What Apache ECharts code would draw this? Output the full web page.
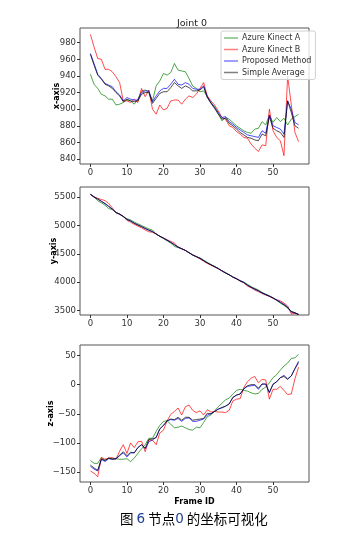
<!DOCTYPE html>
<html>
<head>
<meta charset="utf-8">
<script src="https://cdn.jsdelivr.net/npm/echarts@6/dist/echarts.min.js"></script>
<style>
  html, body { margin: 0; padding: 0; background: #fff; }
  #main { width: 353px; height: 535px; }
</style>
</head>
<body>
<div id="main"></div>
<script>
// 帧号 0..57
const frames = [];
for (let i = 0; i < 58; i++) frames.push(i);

const seriesNames = ['Azure Kinect A', 'Azure Kinect B', 'Proposed Method', 'Simple Average'];
const xTicks = [0, 10, 20, 30, 40, 50];

// x 轴坐标
const xA = [942, 930, 925, 918, 916, 912, 912, 905, 906, 908, 911, 910, 906, 912, 922, 923, 921, 910, 928, 934,
  943, 941, 944, 955, 947, 946, 945, 937, 928, 925, 921, 922, 915, 908, 903, 895, 886, 890, 888, 884,
  880, 877, 874, 872, 871, 876, 877, 885, 881, 893, 884, 890, 885, 889, 881, 888, 891, 894];
const xB = [990, 975, 961, 960, 948, 948, 945, 939, 932, 910, 910, 908, 912, 908, 925, 915, 923, 900, 894, 905,
  899, 901, 910, 911, 911, 906, 912, 916, 914, 918, 925, 932, 916, 910, 905, 898, 890, 888, 880, 878,
  873, 870, 866, 865, 858, 853, 849, 857, 856, 900, 874, 866, 862, 844, 940, 905, 872, 861];
const xP = [967, 955, 942, 937, 931, 929, 927, 921, 917, 910, 914, 912, 911, 911, 920, 922, 922, 909, 916, 922,
  925, 925, 930, 936, 930, 929, 932, 930, 925, 924, 924, 928, 915, 908, 902, 896, 890, 891, 885, 882,
  878, 875, 872, 869, 868, 867, 866, 874, 871, 893, 880, 878, 876, 870, 910, 900, 884, 881];
const xS = [966, 953, 941, 936, 930, 928, 925, 920, 916, 909, 912, 910, 909, 910, 918, 920, 920, 907, 913, 919,
  921, 921, 926, 932, 928, 925, 928, 926, 922, 922, 923, 927, 914, 907, 901, 894, 888, 889, 883, 880,
  876, 872, 869, 866, 865, 863, 862, 870, 868, 891, 877, 874, 872, 866, 910, 896, 880, 877];

// y 轴坐标
const yA = [5550, 5500, 5440, 5400, 5360, 5300, 5280, 5230, 5200, 5160, 5120, 5100, 5060, 5030, 5000, 4970, 4940, 4920, 4850, 4810,
  4770, 4730, 4690, 4630, 4610, 4590, 4560, 4520, 4480, 4450, 4430, 4390, 4350, 4310, 4280, 4240, 4200, 4170, 4130, 4090,
  4060, 4030, 4000, 3960, 3920, 3890, 3860, 3820, 3790, 3760, 3720, 3680, 3630, 3590, 3540, 3490, 3460, 3430];
const yB = [5550, 5500, 5480, 5460, 5440, 5390, 5310, 5230, 5200, 5160, 5090, 5060, 5020, 4990, 4960, 4920, 4890, 4880, 4850, 4810,
  4780, 4750, 4720, 4690, 4620, 4590, 4560, 4520, 4480, 4450, 4410, 4370, 4330, 4300, 4270, 4240, 4200, 4160, 4130, 4090,
  4060, 4020, 3990, 3930, 3900, 3860, 3830, 3800, 3770, 3750, 3720, 3690, 3670, 3630, 3580, 3440, 3450, 3430];
const yP = [5550, 5505, 5465, 5425, 5385, 5335, 5290, 5230, 5200, 5160, 5105, 5080, 5040, 5010, 4980, 4945, 4915, 4895, 4850, 4810,
  4775, 4740, 4705, 4660, 4620, 4590, 4560, 4520, 4480, 4450, 4420, 4380, 4340, 4305, 4275, 4240, 4200, 4165, 4130, 4090,
  4060, 4025, 3995, 3945, 3910, 3875, 3845, 3810, 3780, 3755, 3720, 3685, 3650, 3610, 3560, 3470, 3455, 3430];
const yS = [5550, 5510, 5470, 5430, 5390, 5340, 5290, 5230, 5200, 5160, 5110, 5080, 5040, 5010, 4980, 4950, 4920, 4890, 4850, 4810,
  4780, 4740, 4700, 4660, 4620, 4590, 4560, 4520, 4480, 4450, 4420, 4380, 4340, 4310, 4270, 4240, 4200, 4160, 4130, 4090,
  4060, 4020, 3990, 3950, 3910, 3880, 3850, 3810, 3780, 3750, 3720, 3680, 3640, 3600, 3550, 3480, 3460, 3430];

// z 轴坐标
const zA = [-130, -135, -135, -125, -130, -126, -127, -127, -128, -128, -127, -132, -126, -118, -110, -103, -92, -92, -80, -70,
  -63, -62, -68, -74, -73, -71, -74, -77, -78, -73, -74, -65, -55, -52, -45, -38, -32, -26, -23, -16,
  -10, -8, -10, -11, -14, -16, -15, -8, -4, 3, 12, 17, 25, 32, 37, 45, 46, 52];
const zB = [-148, -152, -158, -125, -128, -126, -125, -128, -114, -103, -118, -100, -108, -98, -97, -115, -95, -95, -103, -83,
  -78, -62, -51, -46, -40, -52, -38, -35, -44, -48, -45, -52, -43, -47, -46, -47, -47, -48, -44, -28,
  -25, -24, -5, 5, 11, 14, 3, 9, 8, -25, -8, -8, -3, -10, -17, -16, 10, 30];
const zP = [-140, -145, -148, -128, -132, -127, -128, -127, -122, -117, -124, -117, -117, -108, -103, -110, -98, -95, -90, -76,
  -70, -62, -60, -61, -58, -63, -58, -57, -63, -63, -61, -59, -52, -50, -46, -42, -40, -37, -33, -22,
  -18, -16, -7, -3, -2, -1, -8, 1, 1, -14, 0, 5, 12, 16, 10, 15, 28, 40];
const zS = [-138, -143, -147, -128, -130, -126, -128, -127, -121, -115, -122, -116, -117, -108, -103, -109, -94, -93, -91, -76,
  -70, -62, -59, -60, -56, -61, -56, -56, -61, -60, -59, -58, -49, -50, -46, -42, -39, -37, -33, -22,
  -18, -16, -7, -2, 0, 0, -6, 1, 1, -13, 1, 5, 12, 14, 9, 15, 27, 38];

const colors = ['#008000', '#ff0000', '#0000ff', '#000000'];
const textColor = '#333';
const font = 'DejaVu Sans';

const grids = [
  { left: 80, right: 44, top: 28, height: 136 },
  { left: 80, right: 44, top: 187, height: 128 },
  { left: 80, right: 44, top: 345, height: 137 }
];

// 刻度标签直接输出数字, 不加千位分隔符; 负号用 matplotlib 风格的 −
function plainLabel(v) {
  return String(v).replace('-', '\u2212');
}

function makeXAxis(idx, withName) {
  return {
    type: 'value',
    gridIndex: idx,
    min: -2.85,
    max: 59.85,
    splitLine: { show: false },
    axisLine: { show: false, onZero: false },
    axisTick: { show: true, length: 3, lineStyle: { color: '#333' }, customValues: xTicks },
    axisLabel: { color: textColor, fontSize: 8.5, fontFamily: font, margin: 4, customValues: xTicks, formatter: plainLabel },
    name: withName ? 'Frame ID' : '',
    nameLocation: 'middle',
    nameGap: 16,
    nameMoveOverlap: false,
    nameTextStyle: { color: '#000', fontSize: 8, fontWeight: 'bold', fontFamily: font }
  };
}

function makeYAxis(idx, name, min, max, ticks, gap) {
  return {
    type: 'value',
    gridIndex: idx,
    min: min,
    max: max,
    splitLine: { show: false },
    axisLine: { show: false, onZero: false },
    axisTick: { show: true, length: 3, lineStyle: { color: '#333' }, customValues: ticks },
    axisLabel: { color: textColor, fontSize: 8.5, fontFamily: font, margin: 4, customValues: ticks, formatter: plainLabel },
    name: name,
    nameLocation: 'middle',
    nameRotate: 90,
    nameGap: gap,
    nameMoveOverlap: false,
    nameTextStyle: { color: '#000', fontSize: 8, fontWeight: 'bold', fontFamily: font }
  };
}

function makeSeries(idx, arrs) {
  return arrs.map((arr, k) => ({
    name: seriesNames[k],
    type: 'line',
    xAxisIndex: idx,
    yAxisIndex: idx,
    data: frames.map((f, i) => [f, arr[i]]),
    symbol: 'none',
    animation: false,
    lineStyle: { color: colors[k], width: 1, opacity: 0.7 },
    itemStyle: { color: colors[k], opacity: 0.5 },
    z: 2 + k
  }));
}

const chart = echarts.init(document.getElementById('main'), null, { renderer: 'canvas' });
chart.setOption({
  animation: false,
  color: colors,
  title: {
    text: 'Joint 0',
    left: 187,
    textAlign: 'center',
    top: 14,
    textStyle: { color: '#222', fontSize: 9.5, fontWeight: 'normal', fontFamily: font }
  },
  legend: {
    data: seriesNames,
    orient: 'vertical',
    left: 221,
    top: 31,
    itemWidth: 14,
    itemHeight: 1.5,
    itemGap: 3.5,
    padding: [3, 4, 3, 3],
    backgroundColor: 'rgba(255,255,255,0.8)',
    borderColor: '#d0d0d0',
    borderWidth: 1,
    borderRadius: 2,
    icon: 'rect',
    textStyle: { color: textColor, fontSize: 8, fontFamily: font, padding: [0, 0, 0, -1] }
  },
  grid: grids.map(g => Object.assign({ show: true, borderColor: '#555', borderWidth: 1, backgroundColor: '#fff' }, g)),
  xAxis: [makeXAxis(0, false), makeXAxis(1, false), makeXAxis(2, true)],
  yAxis: [
    makeYAxis(0, 'x-axis', 834, 997.7, [840, 860, 880, 900, 920, 940, 960, 980], 19),
    makeYAxis(1, 'y-axis', 3420, 5680, [3500, 4000, 4500, 5000, 5500], 22.5),
    makeYAxis(2, 'z-axis', -167, 68, [-150, -100, -50, 0, 50], 25.5)
  ],
  series: [].concat(
    makeSeries(0, [xA, xB, xP, xS]),
    makeSeries(1, [yA, yB, yP, yS]),
    makeSeries(2, [zA, zB, zP, zS])
  ),
  graphic: [{
    type: 'text',
    left: 120,
    top: 512,
    style: {
      text: '图 {d|6} 节点{d|0} 的坐标可视化',
      fill: '#000',
      font: '13.5px "Noto Sans CJK SC"',
      rich: {
        d: { fill: '#1f3f9a', fontSize: 13.5, fontFamily: 'DejaVu Sans' }
      }
    }
  }]
});
</script>
</body>
</html>
